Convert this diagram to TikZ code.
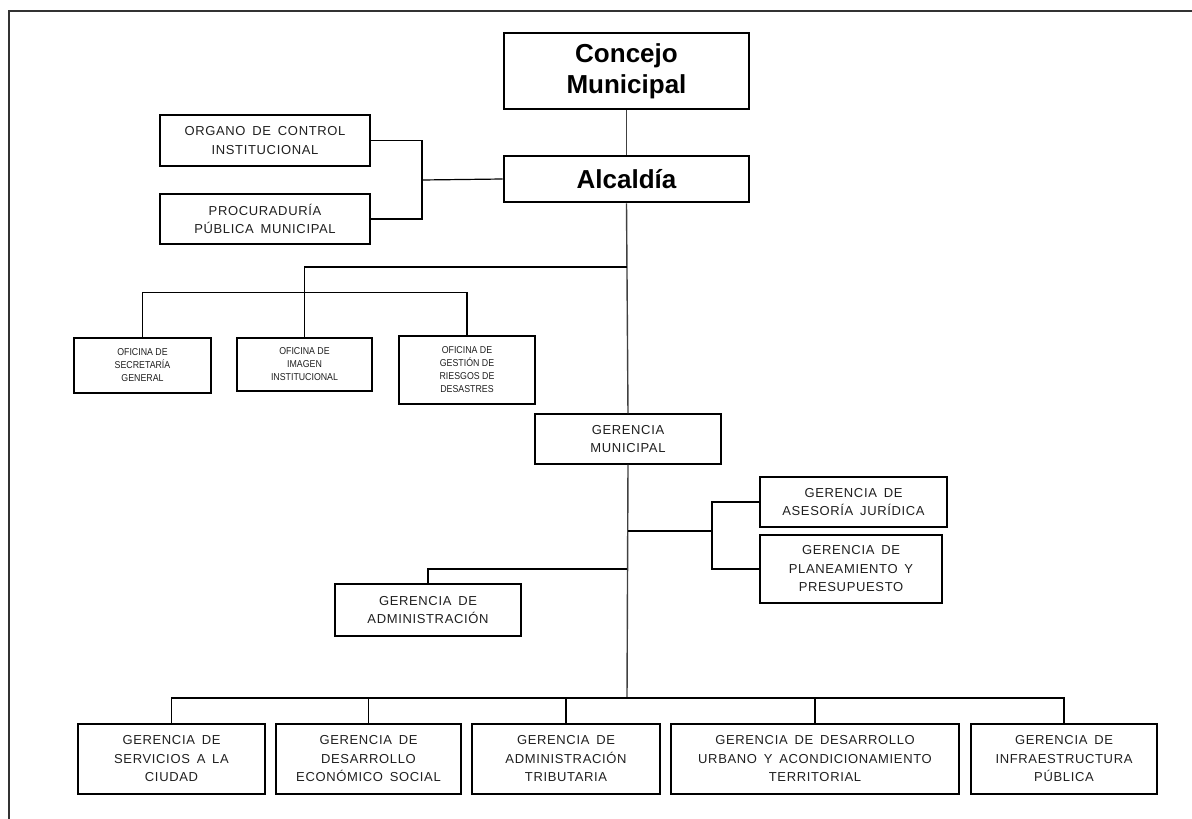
\documentclass[tikz,border=0pt]{standalone}
\usepackage{fontspec}
\setmainfont{Liberation Sans}
\newfontfamily\boxfont{Liberation Sans}[LetterSpace=5,WordSpace=1.6]
\newfontfamily\officefont{Liberation Sans}[FakeStretch=0.88]
\begin{document}
\begin{tikzpicture}[x=1pt,y=-1pt,
  box/.style={draw,line width=1.2pt,align=center,inner sep=0pt,text=black!88,
    font=\boxfont\fontsize{13}{18.5}\selectfont},
  smallbox/.style={draw,line width=1.2pt,align=center,inner sep=0pt,text=black!88,
    font=\officefont\fontsize{10}{13}\selectfont},
  headbox/.style={draw,line width=2.8pt,align=center,inner sep=0pt,
    font=\fontsize{26}{31}\selectfont\bfseries},
  link/.style={line width=1.2pt},
  trunk/.style={line width=1.4pt,black!75}]
\useasboundingbox (0,0) rectangle (1192,819);
% page frame (top and left edges)
\draw[line width=1.4pt,black!80] (9,819) -- (9,11) -- (1192,11);

% top of the hierarchy
\node[headbox,minimum width=245pt,minimum height=76pt] (concejo) at (626.5,71) {Concejo\\Municipal};
\node[headbox,minimum width=245pt,minimum height=46pt] (alcaldia) at (626.5,179) {Alcaldía};

% advisory bodies of the mayor's office
\node[box,minimum width=210pt,minimum height=51pt] (organo) at (265,140.5) {ORGANO DE CONTROL\\INSTITUCIONAL};
\node[box,minimum width=210pt,minimum height=50pt] (procu) at (265,219) {PROCURADURÍA\\PÚBLICA MUNICIPAL};

% support offices
\node[smallbox,minimum width=137pt,minimum height=55pt] (secretaria) at (142.5,365.5) {OFICINA DE\\SECRETARÍA\\GENERAL};
\node[smallbox,minimum width=135pt,minimum height=53pt] (imagen) at (304.5,364.5) {OFICINA DE\\IMAGEN\\INSTITUCIONAL};
\node[smallbox,minimum width=136pt,minimum height=68pt] (gestion) at (467,370) {OFICINA DE\\GESTIÓN DE\\RIESGOS DE\\DESASTRES};

% municipal management
\node[box,minimum width=186pt,minimum height=50pt] (gm) at (628,439) {GERENCIA\\MUNICIPAL};
\node[box,minimum width=187pt,minimum height=50pt] (asesoria) at (853.5,502) {GERENCIA DE\\ASESORÍA JURÍDICA};
\node[box,minimum width=182pt,minimum height=68pt] (planea) at (851,569) {GERENCIA DE\\PLANEAMIENTO Y\\PRESUPUESTO};
\node[box,minimum width=186pt,minimum height=52pt] (admin) at (428,610) {GERENCIA DE\\ADMINISTRACIÓN};

% line departments
\node[box,minimum width=187pt,minimum height=70pt] (servicios) at (171.5,759) {GERENCIA DE\\SERVICIOS A LA\\CIUDAD};
\node[box,minimum width=185pt,minimum height=70pt] (economico) at (368.5,759) {GERENCIA DE\\DESARROLLO\\ECONÓMICO SOCIAL};
\node[box,minimum width=188pt,minimum height=70pt] (tributaria) at (566,759) {GERENCIA DE\\ADMINISTRACIÓN\\TRIBUTARIA};
\node[box,minimum width=288pt,minimum height=70pt] (urbano) at (815,759) {GERENCIA DE DESARROLLO\\URBANO Y ACONDICIONAMIENTO\\TERRITORIAL};
\node[box,minimum width=186pt,minimum height=70pt] (infra) at (1064,759) {GERENCIA DE\\INFRAESTRUCTURA\\PÚBLICA};

% junction points
\coordinate (bracket) at (422,180);
\coordinate (offices) at (627,267);
\coordinate (gmside) at (712,531);
\coordinate (adminjoin) at (627,569);
\coordinate (bus) at (627,698);

% main trunk
\draw[trunk] (concejo.south) -- (alcaldia.north);
\draw[trunk] (alcaldia.south) -- (gm.north);
\draw[trunk] (gm.south) -- (bus);

% advisory bracket
\draw[link] (organo.east) -| (bracket);
\draw[link] (procu.east) -| (bracket);
\draw[link] (bracket) -- (alcaldia.west);

% support offices
\draw[link] (offices) -| (imagen.north);
\draw[link] (secretaria.north) -- ++(0,-45) -| (gestion.north);

% advisory units of the municipal management
\draw[link] (asesoria.west) -| (gmside);
\draw[link] (planea.west) -| (gmside);
\draw[link] (gmside) -- (gmside -| gm.south);
\draw[link] (adminjoin) -| (admin.north);

% department bus
\draw[link] (servicios.north) -- (servicios.north |- bus) -| (infra.north);
\draw[link] (economico.north) -- (economico.north |- bus);
\draw[link] (tributaria.north) -- (tributaria.north |- bus);
\draw[link] (urbano.north) -- (urbano.north |- bus);
\end{tikzpicture}
\end{document}
